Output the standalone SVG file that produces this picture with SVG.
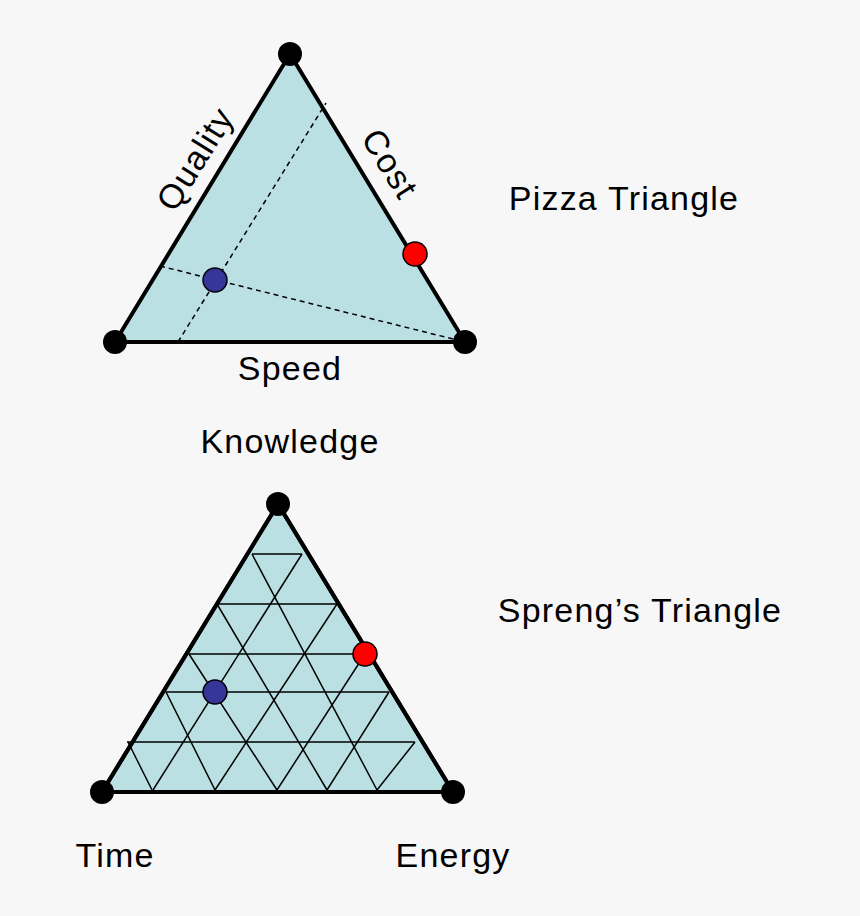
<svg xmlns="http://www.w3.org/2000/svg" width="860" height="916" viewBox="0 0 860 916">
<style>
.tri{fill:#bae0e3;stroke:#000;stroke-width:4;stroke-linejoin:round}
.g line{stroke:#000;stroke-width:1.5}
.d{stroke:#000;stroke-width:1.5;stroke-dasharray:5,4}
.v{fill:#000}
text{font-family:"Liberation Sans",Arial,sans-serif;font-size:34px;letter-spacing:1.2px;fill:#000}
</style>
<rect width="860" height="916" fill="#f7f7f7"/>
<g id="pizza">
<polygon class="tri" points="290,54 115,342 465,342"/>
<g id="connectors">
<line class="d" x1="178" y1="342" x2="326" y2="103"/>
<line class="d" x1="160" y1="266" x2="465" y2="342"/>
</g>
<circle class="v" cx="290" cy="54" r="12"/>
<circle class="v" cx="115" cy="342" r="12"/>
<circle class="v" cx="465" cy="342" r="12"/>
<circle cx="215" cy="280" r="12" fill="#35359a" stroke="#000" stroke-width="1.5"/>
<circle cx="415" cy="254" r="12" fill="#ff0000" stroke="#000" stroke-width="1.5"/>
<text transform="translate(205,165) rotate(-58)" text-anchor="middle">Quality</text>
<text transform="translate(380,170) rotate(58)" text-anchor="middle">Cost</text>
<text x="290" y="380" text-anchor="middle">Speed</text>
</g>
<text x="624" y="210" text-anchor="middle">Pizza Triangle</text>
<text x="290" y="453" text-anchor="middle">Knowledge</text>
<g id="spreng">
<polygon class="tri" points="278,504 102,792 453,792"/>
<g class="g">
<line x1="252" y1="554" x2="302" y2="554"/>
<line x1="217" y1="604" x2="337" y2="604"/>
<line x1="189" y1="654" x2="365" y2="654"/>
<line x1="166" y1="692" x2="389" y2="692"/>
<line x1="127" y1="742" x2="415" y2="742"/>
<line x1="252" y1="554" x2="377" y2="790"/>
<line x1="217" y1="604" x2="327" y2="790"/>
<line x1="189" y1="654" x2="277" y2="790"/>
<line x1="166" y1="692" x2="215" y2="790"/>
<line x1="128" y1="742" x2="152" y2="790"/>
<line x1="302" y1="554" x2="153" y2="790"/>
<line x1="337" y1="604" x2="215" y2="790"/>
<line x1="365" y1="654" x2="277" y2="790"/>
<line x1="389" y1="692" x2="327" y2="790"/>
<line x1="415" y1="742" x2="377" y2="790"/>
</g>
<polygon points="278,504 102,792 453,792" fill="none" stroke="#000" stroke-width="4" stroke-linejoin="round"/>
<circle class="v" cx="278" cy="504" r="12"/>
<circle class="v" cx="102" cy="792" r="12"/>
<circle class="v" cx="453" cy="792" r="12"/>
<circle cx="215" cy="692" r="12" fill="#35359a" stroke="#000" stroke-width="1.5"/>
<circle cx="365" cy="654" r="12" fill="#ff0000" stroke="#000" stroke-width="1.5"/>
</g>
<text x="640" y="622" text-anchor="middle">Spreng’s Triangle</text>
<text x="115" y="867" text-anchor="middle">Time</text>
<text x="453" y="867" text-anchor="middle">Energy</text>
</svg>
